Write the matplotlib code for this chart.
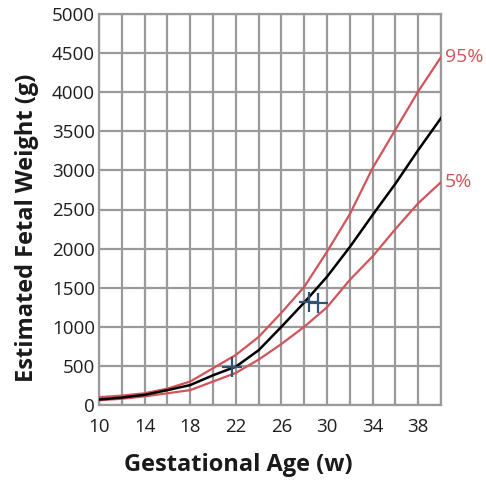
import matplotlib
matplotlib.use("Agg")
import matplotlib.pyplot as plt
from matplotlib.ticker import MultipleLocator

weeks = [10, 12, 14, 16, 18, 20, 22, 24, 26, 28, 30, 32, 34, 36, 38, 40]
p95 = [100, 120, 150, 210, 300, 470, 640, 870, 1180, 1510, 1960, 2440, 3030, 3520, 4010, 4450]
p50 = [70, 95, 130, 190, 255, 380, 490, 700, 1000, 1310, 1640, 2020, 2430, 2830, 3260, 3670]
p5 = [60, 80, 110, 150, 190, 300, 410, 580, 780, 1000, 1250, 1600, 1900, 2250, 2580, 2850]
marker_weeks = [21.7, 28.4, 29.2]
marker_weights = [485, 1315, 1300]
xticks = [10, 14, 18, 22, 26, 30, 34, 38]
yticks = list(range(0, 5001, 500))

plt.rcParams['font.family'] = ['Open Sans', 'DejaVu Sans']

fig = plt.figure(figsize=(4.86, 4.82), dpi=100)
ax = fig.add_axes([99/486, 1-405/482, (441-99)/486, (405-14)/482])

red = '#d0545a'
ax.plot(weeks, p95, color=red, lw=1.6, zorder=3)
ax.plot(weeks, p5, color=red, lw=1.6, zorder=3)
ax.plot(weeks, p50, color='black', lw=1.8, zorder=4)
ax.plot(marker_weeks, marker_weights, linestyle='none', marker='+', markersize=14,
        mew=1.6, color='#2e5373', zorder=5)

ax.set_xlim(10, 40)
ax.set_ylim(0, 5000)
ax.xaxis.set_minor_locator(MultipleLocator(2))
ax.set_xticks(xticks)
ax.set_yticks(yticks)
ax.grid(True, which='both', color='#9a9a9a', lw=1.6, zorder=1)
for s in ax.spines.values():
    s.set_color('#9a9a9a')
    s.set_linewidth(1.6)
ax.tick_params(which='both', length=0, labelsize=13.5, colors='#1e1e1e', pad=3)
ax.tick_params(axis='x', pad=9)

ax.set_xlabel('Gestational Age (w)', fontsize=17, fontweight='bold', color='#1a1a1a')
ax.set_ylabel('Estimated Fetal Weight (g)', fontsize=17, fontweight='bold', color='#1a1a1a')
# place labels in figure pixel coordinates like the reference
ax.xaxis.set_label_coords((238-99)/342, -(465-405)/391, transform=ax.transAxes)
ax.xaxis.label.set_va('center')
ax.yaxis.set_label_coords(-(99-27)/342, (405-228)/391, transform=ax.transAxes)
ax.yaxis.label.set_va('center')

ax.text(40.35, 4450, '95%', color=red, fontsize=14, va='center', ha='left', clip_on=False)
ax.text(40.35, 2850, '5%', color=red, fontsize=14, va='center', ha='left', clip_on=False)

fig.savefig('out.png', dpi=100)
